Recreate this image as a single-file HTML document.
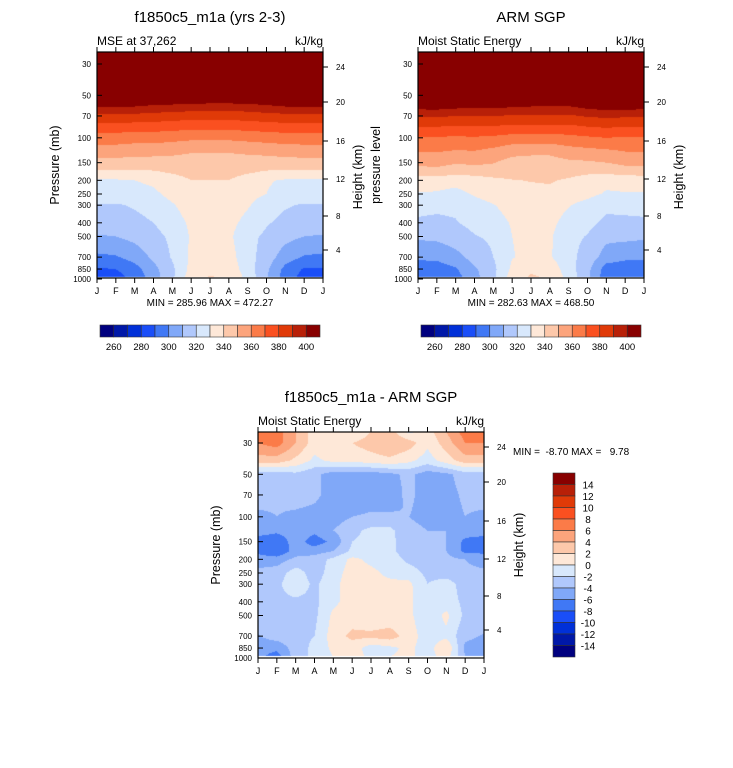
<!DOCTYPE html>
<html><head><meta charset="utf-8">
<style>
body{margin:0;background:#fff;width:733px;height:768px;overflow:hidden;font-family:"Liberation Sans",sans-serif;}
#root{position:relative;width:733px;height:768px;}
canvas{position:absolute;}
svg{position:absolute;left:0;top:0;}
</style></head>
<body><div id="root">
<canvas id="c1"></canvas>
<canvas id="c2"></canvas>
<canvas id="c3"></canvas>
<svg id="ov" width="733" height="768"></svg>
</div>
<script>
const months=["J","F","M","A","M","J","J","A","S","O","N","D","J"];
const levels=[25,30,40,50,60,70,85,100,125,150,175,200,250,300,400,500,700,850,980];
const pTicks=[30,50,70,100,150,200,250,300,400,500,700,850,1000];
const hTicks=[24,20,16,12,8,4];
const hOffsets=[15,50,89,127,164,198];
const absLabels=[260,280,300,320,340,360,380,400];
const diffLabels=[14,12,10,8,6,4,2,0,-2,-4,-6,-8,-10,-12,-14];
const colors=["#00007f","#0018a8","#0030d8","#1a4ef8","#4078f5","#80a8f8","#b0c8fc","#d8e8fc","#fee8d8","#fdc8aa","#fca47c","#fb7b48","#fa5020","#e03a08","#b82008","#880000"];
const modelMSE=[
[460,460,460,460,460,460,460,460,460,460,460,460],
[450,450,450,450,450,450,450,450,450,450,450,450],
[430,430,430,430,430,430,430,430,430,430,430,430],
[415,415,415,414,414,413,413,413,413,414,415,415],
[401,401,400,398,397,396,395,395,396,398,400,401],
[388,388,387,386,385,384,384,384,385,386,387,388],
[375,375,374,374,373,372,372,372,373,374,375,375],
[365,365,364,364,363,362,362,362,363,364,365,365],
[355,355,354,354,353,351,351,351,352,353,354,355],
[346,346,346,345,345,344,344,344,345,345,346,346],
[338,338,338,339,341,343,343,343,341,339,338,338],
[329,329,330,332,336,340,340,340,336,331,329,329],
[326,326,326,328,333,337,337,337,333,330,326,326],
[319,319,321,324,329,335,336,335,331,325,321,319],
[316,316,317,320,325,332,334,333,327,321,317,316],
[309,310,313,317,322,331,333,332,323,318,313,310],
[298,299,304,312,321,332,335,334,324,315,305,299],
[289,290,296,307,318,333,337,336,325,312,297,289],
[284,286,293,305,318,336,341,339,327,311,295,286]];
const diffMSE=[
[7,7,4,1,1,0,2,3,-0.5,1,4,7],
[6,7,4,1,2,2,3,4,3,0.5,3,6],
[3,3,1.5,-0.5,0.5,0.5,1,1.5,0.5,-1,1,3],
[-3,-3,-2.5,-3.5,-5,-5,-5,-4.5,-3.5,-5,-4.5,-3],
[-3,-3.2,-2.8,-3.5,-5,-5,-5,-4.8,-3.5,-5,-4.8,-3.2],
[-3,-3.5,-3,-3.5,-5,-5,-5,-5,-3.5,-5,-5,-3.5],
[-3.8,-3.8,-3.8,-4.2,-5,-5,-4.5,-4.5,-3.8,-4.8,-5,-3.8],
[-4.5,-4,-4.5,-5,-5,-4,-3.5,-3.5,-4,-4.5,-5,-4],
[-5,-5.5,-5,-5.5,-4,-2.5,-1.5,-1.5,-3.5,-4,-4,-5],
[-7,-7.5,-5,-7,-5.5,-2,-1.5,-1.5,-3,-3.5,-4,-6.5],
[-6.5,-8,-5,-5,-4,-1.5,-1,-1.5,-3,-3.5,-4,-6.5],
[-5,-5,-3.5,-3,-1.5,0.5,-0.5,-1,-2.5,-3,-3.5,-4],
[-3.5,-3,-1,-3,-1,1,0.5,-0.5,-1,-2.5,-3,-3.5],
[-3,-2.5,-0.5,-2.5,-0.5,1,0.5,0.5,0.5,-2,-1,-3],
[-3,-2.5,-2.5,-2.5,-0.5,1,0.5,0.5,0.5,-1.5,-1,-2.5],
[-2.5,-2.5,-2.5,-2.5,0.5,1,0.5,0.5,0.5,-1.5,0.5,-2.5],
[-4.2,-3,-2.5,-2,1,2.5,2.5,3,1,-1,-0.5,-3.5],
[-5,-5.5,-3,-1.5,0.5,1,-1,-0.5,0.5,-1,2,-4.5],
[-5.5,-7,-3,-1.5,0,1,-0.5,0,0.5,-1,1,-4]];
const obsMSE=modelMSE.map((r,i)=>r.map((v,j)=>v-diffMSE[i][j]));

const L30=Math.log10(30),L1000=3;
function yP(p,y30,y1000){return y30+(Math.log10(p)-L30)/(L1000-L30)*(y1000-y30);}
function sample(grid,mi,lp){
  const ll=levels.map(Math.log10);
  let k=0;while(k<ll.length-2&&lp>ll[k+1])k++;
  let t=(lp-ll[k])/(ll[k+1]-ll[k]);t=Math.max(0,Math.min(1,t));
  let m0=Math.floor(mi);if(m0>11)m0=11;let u=mi-m0;
  const a=m0%12,b=(m0+1)%12;
  const v00=grid[k][a],v01=grid[k][b],v10=grid[k+1][a],v11=grid[k+1][b];
  return (v00*(1-u)+v01*u)*(1-t)+(v10*(1-u)+v11*u)*t;
}
function hex(c){return [parseInt(c.substr(1,2),16),parseInt(c.substr(3,2),16),parseInt(c.substr(5,2),16)];}
const rgb=colors.map(hex);
function drawField(id,grid,x0,y0,w,h,y30,y1000,binFn){
  const c=document.getElementById(id);c.width=w;c.height=h;c.style.left=x0+"px";c.style.top=y0+"px";
  const ctx=c.getContext('2d');const img=ctx.createImageData(w,h);
  const yBot=yP(975,y30,y1000);
  for(let py=0;py<h;py++){
    const Y=y0+py+0.5;
    const lp=L30+(Y-y30)/(y1000-y30)*(L1000-L30);
    for(let px=0;px<w;px++){
      const o=(py*w+px)*4;
      if(Y>yBot){img.data[o]=255;img.data[o+1]=255;img.data[o+2]=255;img.data[o+3]=255;continue;}
      const mi=(px+0.5)/w*12;
      const v=sample(grid,mi,lp);
      const col=rgb[binFn(v)];
      img.data[o]=col[0];img.data[o+1]=col[1];img.data[o+2]=col[2];img.data[o+3]=255;
    }
  }
  ctx.putImageData(img,0,0);
}
const absBin=v=>Math.max(0,Math.min(15,Math.floor((v-250)/10)));
const diffBin=v=>Math.max(0,Math.min(15,Math.floor((v+16)/2)));
drawField('c1',modelMSE,97,52,226,226,64,279,absBin);
drawField('c2',obsMSE,418,52,226,226,64,279,absBin);
drawField('c3',diffMSE,258,432,226,226,443,658,diffBin);

const NS="http://www.w3.org/2000/svg";const ov=document.getElementById('ov');
function el(tag,attrs,parent){const e=document.createElementNS(NS,tag);for(const k in attrs)e.setAttribute(k,attrs[k]);(parent||ov).appendChild(e);return e;}
function txt(s,x,y,size,anchor,name,extra){const t=el('text',Object.assign({x:x,y:y,'font-size':size,'text-anchor':anchor||'start','font-family':'Liberation Sans, sans-serif',fill:'#000'},extra||{}));t.textContent=s;


t.style.whiteSpace='pre';
return t;}
function panel(x0,y0,y30,y1000,title,left,right,ylab,minmax,pfx,hOff){
  const w=226,h=226;
  const g=el('g',{});
  
  
  el('rect',{x:x0,y:y0,width:w,height:h,fill:'none',stroke:'#000','stroke-width':1.2},g);
  months.forEach((m,i)=>{const x=x0+i*w/12;
    el('line',{x1:x,y1:y0+h,x2:x,y2:y0+h+5,stroke:'#000'},g);
    el('line',{x1:x,y1:y0,x2:x,y2:y0-5,stroke:'#000'},g);
    txt(m,x,y0+h+16,9,'middle',pfx+'-month-label');});
  pTicks.forEach(p=>{const y=yP(p,y30,y1000);
    el('line',{x1:x0,y1:y,x2:x0+5,y2:y,stroke:'#000'},g);
    txt(String(p),x0-6,y+3,8,'end',pfx+'-pressure-label');});
  hTicks.forEach((hk,i)=>{const y=y0+hOffsets[i];
    el('line',{x1:x0+w,y1:y,x2:x0+w+5,y2:y,stroke:'#000'},g);
    txt(String(hk),x0+w+13,y+3,8,'start',pfx+'-height-label');});
  txt(left,x0,y0-7,12,'start',pfx+'-subtitle');
  txt(right,x0+w,y0-7,12,'end',pfx+'-units');
  txt(title,x0+w/2,y0-30,15,'middle',pfx+'-title');
  txt(ylab,x0-38,y0+h/2,12.5,'middle',pfx+'-y-axis-title',{transform:`rotate(-90 ${x0-38} ${y0+h/2})`});
  const hx=x0+w+39,hy=y0+h/2+hOff;
  txt('Height (km)',hx,hy,12.5,'middle',pfx+'-height-axis-title',{transform:`rotate(-90 ${hx} ${hy})`});
  if(minmax)txt(minmax,x0+w/2,y0+h+28,10,'middle',pfx+'-min-max');
}
panel(97,52,64,279,'f1850c5_m1a (yrs 2-3)','MSE at 37,262','kJ/kg','Pressure (mb)','MIN = 285.96 MAX = 472.27','model',12);
panel(418,52,64,279,'ARM SGP','Moist Static Energy','kJ/kg','pressure level','MIN = 282.63 MAX = 468.50','obs',12);
panel(258,432,443,658,'f1850c5_m1a - ARM SGP','Moist Static Energy','kJ/kg','Pressure (mb)',null,'diff',0);
txt('MIN =  -8.70 MAX =   9.78',513,455,10,'start','diff-min-max');

function hbar(x0,pfx){const bw=220/16;
  colors.forEach((c,i)=>{const r=el('rect',{x:x0+i*bw,y:325,width:bw,height:12,fill:c,stroke:'#333','stroke-width':0.6});
    
    });
  absLabels.forEach((v,i)=>txt(String(v),x0+(1+2*i)*bw,350,9.5,'middle',pfx+'-colorbar-label'));}
hbar(100,'model');hbar(421,'obs');
(function(){const bh=184/16;
  colors.slice().reverse().forEach((c,i)=>{const r=el('rect',{x:553,y:473+i*bh,width:22,height:bh,fill:c,stroke:'#333','stroke-width':0.6});
    
    });
  diffLabels.forEach((v,i)=>txt(String(v),588,473+(i+1)*bh+4,10,'middle','diff-colorbar-label'));})();
</script></body></html>
